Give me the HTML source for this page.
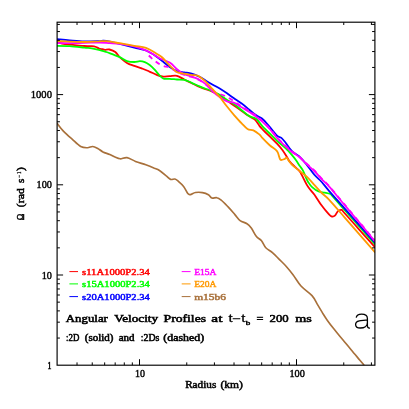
<!DOCTYPE html>
<html><head><meta charset="utf-8"><title>plot</title>
<style>html,body{margin:0;padding:0;background:#fff;}svg{display:block;will-change:transform;}text{font-family:"Liberation Serif",serif;font-weight:normal;}</style></head><body>
<svg width="409" height="409" viewBox="0 0 409 409">
<rect width="409" height="409" fill="#fff"/>
<defs><clipPath id="c"><rect x="57.1" y="22.2" width="317.79999999999995" height="343.0"/></clipPath></defs>
<g clip-path="url(#c)" fill="none" stroke-linejoin="round" stroke-linecap="round">
<path d="M57.0,42.0 C57.8,42.2 59.9,43.0 62.0,43.5 C64.1,44.0 67.2,44.4 69.7,44.7 C72.2,45.0 74.6,45.2 77.0,45.4 C79.4,45.6 81.8,45.9 84.3,46.0 C86.8,46.1 89.8,46.0 91.7,46.2 C93.7,46.4 94.8,46.6 96.0,47.0 C97.2,47.4 98.0,48.1 99.0,48.5 C100.0,48.9 101.3,49.0 102.3,49.2 C103.3,49.4 103.8,49.8 105.0,49.8 C106.2,49.8 107.7,49.1 109.4,49.5 C111.1,49.9 113.6,50.7 115.3,52.0 C117.0,53.3 117.8,55.3 119.7,57.1 C121.7,58.9 124.6,61.5 127.0,63.0 C129.4,64.5 131.9,65.0 134.3,65.9 C136.8,66.8 139.2,67.5 141.7,68.4 C144.1,69.3 146.6,70.2 149.0,71.3 C151.4,72.3 154.1,73.8 156.3,74.7 C158.5,75.6 160.1,76.3 162.3,76.5 C164.5,76.7 167.2,76.2 169.7,76.1 C172.1,76.0 174.6,75.2 177.0,75.8 C179.4,76.4 181.9,78.3 184.3,79.5 C186.8,80.7 189.2,82.0 191.7,83.2 C194.1,84.4 196.6,85.5 199.0,86.6 C201.4,87.6 204.1,88.7 206.3,89.5 C208.5,90.3 210.1,90.6 212.3,91.6 C214.5,92.6 217.2,94.0 219.7,95.5 C222.1,97.0 224.6,98.8 227.0,100.5 C229.4,102.2 231.9,104.1 234.3,105.8 C236.8,107.5 239.2,109.2 241.7,110.9 C244.1,112.6 246.8,114.6 249.0,116.1 C251.2,117.6 253.2,118.1 254.9,119.7 C256.6,121.3 258.1,124.0 259.3,125.6 C260.5,127.2 260.6,127.3 262.3,129.1 C264.0,130.9 267.2,134.0 269.7,136.4 C272.1,138.8 274.9,141.4 277.0,143.7 C279.1,146.0 280.8,147.8 282.4,150.0 C284.0,152.2 285.7,155.0 286.9,156.9 C288.1,158.8 288.5,160.0 289.8,161.6 C291.1,163.2 293.1,165.1 294.7,166.7 C296.3,168.2 298.2,169.8 299.3,170.9 C300.4,172.0 300.1,171.9 301.0,173.5 C301.9,175.1 303.3,178.1 304.5,180.4 C305.7,182.7 306.8,185.0 308.4,187.3 C310.0,189.7 312.1,191.5 314.3,194.5 C316.5,197.5 319.2,202.2 321.7,205.5 C324.1,208.8 327.3,212.5 329.0,214.3 C330.7,216.1 330.9,216.3 331.9,216.5 C332.9,216.7 333.9,216.6 334.9,215.7 C335.9,214.8 336.7,212.3 337.8,211.3 C338.9,210.3 340.5,209.7 341.5,209.9 C342.5,210.1 341.9,210.2 344.0,212.5 C346.1,214.8 350.9,220.2 354.3,224.0 C357.7,227.8 361.2,231.8 364.6,235.6 C368.0,239.4 373.2,245.2 374.9,247.1" stroke="#ff0000" stroke-width="1.8"/>
<path d="M57.0,45.8 C59.1,45.8 65.2,45.8 69.7,46.1 C74.2,46.4 80.6,47.2 84.3,47.6 C88.0,48.0 89.2,47.9 91.7,48.3 C94.2,48.7 96.6,49.2 99.0,49.8 C101.4,50.4 104.1,51.3 106.3,52.0 C108.5,52.7 110.1,53.4 112.3,54.2 C114.5,55.1 117.2,56.0 119.7,57.1 C122.2,58.2 124.6,60.3 127.0,61.1 C129.4,61.9 132.2,62.0 134.3,62.0 C136.5,62.0 138.2,61.2 139.9,61.2 C141.7,61.2 143.2,61.5 144.8,62.1 C146.4,62.7 148.1,63.8 149.7,65.0 C151.3,66.2 153.0,67.9 154.6,69.6 C156.2,71.3 158.0,73.8 159.5,75.3 C161.0,76.8 161.9,78.1 163.6,78.7 C165.3,79.3 167.5,78.7 169.7,78.8 C171.9,78.9 174.6,79.3 177.0,79.5 C179.4,79.7 181.9,79.4 184.3,79.9 C186.8,80.5 189.2,81.8 191.7,82.8 C194.1,83.8 196.6,85.1 199.0,86.1 C201.4,87.1 204.1,88.2 206.3,89.0 C208.5,89.8 210.1,90.1 212.3,91.1 C214.5,92.1 217.2,93.3 219.7,94.8 C222.1,96.3 224.6,98.3 227.0,99.9 C229.4,101.5 231.9,102.6 234.3,104.3 C236.8,106.0 239.2,108.2 241.7,110.2 C244.1,112.2 246.6,114.6 249.0,116.1 C251.4,117.6 254.1,117.3 256.3,119.0 C258.5,120.7 260.1,123.7 262.3,126.1 C264.5,128.5 267.2,131.1 269.7,133.5 C272.1,135.9 274.6,138.6 277.0,140.8 C279.4,143.1 282.6,145.5 284.3,147.0 C286.0,148.5 286.1,148.7 287.4,150.0 C288.6,151.3 290.4,153.3 291.8,154.9 C293.2,156.5 294.4,158.0 295.7,159.8 C297.0,161.6 298.4,163.9 299.6,165.7 C300.8,167.5 302.0,168.8 303.0,170.6 C304.0,172.4 304.6,174.5 305.5,176.5 C306.4,178.5 307.2,180.6 308.4,182.4 C309.5,184.2 310.7,185.8 312.4,187.3 C314.1,188.8 316.7,190.6 318.7,191.5 C320.7,192.4 322.6,192.2 324.6,192.6 C326.6,193.0 329.2,193.4 330.5,194.0 C331.8,194.6 329.8,193.2 332.5,196.2 C335.2,199.2 341.9,206.9 346.6,212.2 C351.3,217.5 356.1,222.8 360.8,228.1 C365.5,233.4 372.5,241.4 374.9,244.1" stroke="#00ff00" stroke-width="1.8"/>
<path d="M57.0,39.1 C59.1,39.3 65.2,39.9 69.7,40.3 C74.2,40.7 79.4,41.3 84.3,41.4 C89.2,41.5 95.8,41.2 99.0,41.1 C102.2,41.0 101.6,40.6 103.4,40.7 C105.2,40.8 107.3,41.1 110.0,41.6 C112.7,42.1 115.7,42.9 119.7,43.9 C123.8,44.9 129.9,46.5 134.3,47.6 C138.7,48.7 142.3,49.0 146.0,50.5 C149.7,52.0 153.6,54.6 156.3,56.4 C159.0,58.2 160.1,59.3 162.3,61.1 C164.5,62.9 167.2,65.3 169.7,67.0 C172.1,68.7 174.6,70.2 177.0,71.1 C179.4,72.0 181.9,72.0 184.3,72.4 C186.8,72.8 189.2,72.9 191.7,73.6 C194.1,74.3 196.6,75.3 199.0,76.5 C201.4,77.7 204.1,79.6 206.3,80.9 C208.5,82.2 210.1,83.2 212.3,84.5 C214.5,85.8 217.2,87.0 219.7,88.5 C222.1,90.0 224.6,91.6 227.0,93.3 C229.4,95.0 231.9,96.8 234.3,98.5 C236.8,100.2 239.2,101.8 241.7,103.6 C244.1,105.4 246.6,107.5 249.0,109.5 C251.4,111.5 254.1,113.8 256.3,115.3 C258.5,116.8 260.1,116.9 262.3,118.8 C264.5,120.7 267.2,124.1 269.7,126.9 C272.1,129.7 275.1,133.9 277.0,135.7 C278.9,137.5 279.9,136.7 281.4,137.9 C282.9,139.1 284.1,140.8 285.8,143.0 C287.5,145.2 289.5,148.8 291.7,151.0 C293.9,153.2 296.6,154.0 299.0,156.2 C301.4,158.4 303.8,161.2 306.3,164.3 C308.9,167.4 311.7,171.8 314.3,174.7 C316.9,177.6 319.2,179.3 321.7,182.0 C324.1,184.7 325.2,186.5 329.0,190.8 C332.8,195.2 339.2,202.3 344.3,208.1 C349.4,213.9 354.5,219.6 359.6,225.4 C364.7,231.2 372.3,239.8 374.9,242.7" stroke="#0000ff" stroke-width="1.8"/>
<path d="M57.0,43.0 C59.1,43.0 65.2,43.2 69.7,43.2 C74.2,43.2 79.4,43.0 84.3,42.9 C89.2,42.8 94.7,42.5 99.0,42.5 C103.3,42.5 106.5,43.0 110.0,43.2 C113.5,43.4 115.7,43.4 119.7,43.9 C123.8,44.4 130.2,45.4 134.3,46.4 C138.5,47.4 141.7,48.6 144.6,49.8 C147.5,51.0 149.5,52.1 152.0,53.5 C154.5,54.9 156.5,56.7 159.4,58.2 C162.3,59.7 166.8,60.8 169.7,62.6 C172.6,64.4 174.6,67.2 177.0,69.2 C179.4,71.2 181.9,73.1 184.3,74.3 C186.8,75.5 189.2,75.6 191.7,76.5 C194.1,77.4 196.6,78.2 199.0,79.5 C201.4,80.8 204.1,82.7 206.3,84.6 C208.5,86.5 210.1,89.0 212.3,91.1 C214.5,93.2 217.2,95.3 219.7,97.0 C222.1,98.7 224.6,100.4 227.0,101.4 C229.4,102.4 231.9,101.9 234.3,102.9 C236.8,103.9 239.2,105.8 241.7,107.3 C244.1,108.8 246.6,110.1 249.0,111.7 C251.4,113.3 254.1,115.1 256.3,116.8 C258.5,118.5 260.1,119.7 262.3,121.7 C264.5,123.7 267.2,126.3 269.7,129.0 C272.1,131.7 274.6,135.2 277.0,137.9 C279.4,140.6 281.9,142.9 284.3,145.2 C286.8,147.5 289.2,149.9 291.7,151.8 C294.1,153.8 296.4,154.8 299.0,156.9 C301.6,159.0 304.4,162.1 307.0,164.4 C309.6,166.8 311.9,168.6 314.3,171.0 C316.8,173.4 319.2,176.5 321.7,179.1 C324.1,181.7 325.2,182.1 329.0,186.4 C332.8,190.7 339.2,198.6 344.3,204.7 C349.4,210.8 354.5,216.8 359.6,222.9 C364.7,229.0 372.3,238.1 374.9,241.2" stroke="#ff00ff" stroke-width="1.8"/>
<path d="M148.8,55.5 C149.3,56.0 150.9,57.6 152.0,58.6 C153.1,59.6 154.3,60.5 155.6,61.5 C156.9,62.5 158.5,63.7 160.0,64.5 C161.5,65.3 163.1,65.9 164.5,66.3 C165.9,66.7 166.8,66.5 168.2,67.0 C169.6,67.5 171.5,68.7 173.0,69.5 C174.5,70.3 175.1,71.1 177.0,72.0 C178.9,72.9 181.9,74.2 184.3,75.0 C186.8,75.8 189.2,76.2 191.7,77.0 C194.1,77.8 196.6,78.7 199.0,80.0 C201.4,81.3 204.1,83.2 206.3,85.0 C208.5,86.8 210.6,89.1 212.3,90.5 C214.0,91.9 215.5,92.7 216.7,93.3 C217.9,93.9 218.5,93.6 219.7,94.0 C220.9,94.4 222.5,94.9 224.0,95.5 C225.5,96.1 226.8,96.7 228.5,97.7 C230.2,98.7 232.1,100.0 234.3,101.5 C236.5,103.0 239.2,104.9 241.7,106.5 C244.1,108.1 246.6,109.4 249.0,111.0 C251.4,112.6 254.1,114.3 256.3,116.0 C258.5,117.7 260.1,118.9 262.3,121.0 C264.5,123.1 267.2,125.8 269.7,128.5 C272.1,131.2 274.6,134.7 277.0,137.4 C279.4,140.1 281.9,142.4 284.3,144.7 C286.8,147.0 289.2,149.4 291.7,151.3 C294.1,153.2 296.4,154.3 299.0,156.4 C301.6,158.5 304.4,161.6 307.0,163.9 C309.6,166.2 311.9,168.1 314.3,170.5 C316.8,172.9 319.2,176.0 321.7,178.6 C324.1,181.2 325.2,181.6 329.0,185.9 C332.8,190.2 339.2,198.1 344.3,204.2 C349.4,210.3 354.5,216.3 359.6,222.4 C364.7,228.5 372.3,237.6 374.9,240.7" stroke="#ff00ff" stroke-width="1.8" stroke-dasharray="4.8 4.4" stroke-linecap="butt"/>
<path d="M57.0,41.0 C59.1,41.1 65.2,41.5 69.7,41.7 C74.2,41.9 79.4,42.0 84.3,42.0 C89.2,42.0 95.3,41.5 99.0,41.4 C102.7,41.2 104.1,41.0 106.3,41.1 C108.5,41.2 109.8,41.5 112.0,41.9 C114.2,42.2 116.0,42.6 119.7,43.2 C123.4,43.9 129.9,45.0 134.3,45.8 C138.7,46.6 142.3,46.6 146.0,47.9 C149.7,49.2 153.6,51.9 156.3,53.5 C159.0,55.1 160.1,55.5 162.3,57.5 C164.5,59.5 167.2,63.1 169.7,65.5 C172.1,67.9 174.6,70.8 177.0,72.1 C179.4,73.4 181.9,73.1 184.3,73.6 C186.8,74.1 189.5,74.8 191.7,75.1 C193.9,75.4 195.3,74.5 197.5,75.5 C199.7,76.5 202.4,78.7 204.9,80.9 C207.4,83.1 209.8,86.2 212.3,88.9 C214.8,91.6 217.2,94.1 219.7,97.0 C222.1,99.9 224.6,103.5 227.0,106.5 C229.4,109.5 231.9,112.5 234.3,115.3 C236.8,118.1 239.5,121.1 241.7,123.4 C243.9,125.7 245.6,127.8 247.5,129.0 C249.4,130.2 251.4,129.5 253.4,130.4 C255.4,131.3 257.8,133.2 259.3,134.4 C260.8,135.7 260.6,136.1 262.3,137.9 C264.0,139.7 267.2,143.0 269.7,145.2 C272.1,147.4 275.4,149.1 277.0,151.1 C278.6,153.1 278.6,155.4 279.2,156.9 C279.8,158.4 279.8,159.5 280.7,159.9 C281.6,160.3 283.3,159.5 284.3,159.1 C285.3,158.7 285.8,157.4 286.5,157.7 C287.2,157.9 287.7,159.4 288.7,160.6 C289.7,161.8 290.5,163.4 292.3,165.1 C294.1,166.8 297.2,169.0 299.7,171.0 C302.1,173.0 304.6,174.6 307.0,176.9 C309.4,179.2 311.9,182.2 314.3,184.9 C316.8,187.6 319.2,190.6 321.7,193.0 C324.1,195.4 325.2,195.6 329.0,199.6 C332.8,203.6 339.2,211.2 344.3,217.1 C349.4,222.9 354.5,228.8 359.6,234.7 C364.7,240.5 372.3,249.3 374.9,252.2" stroke="#ff9900" stroke-width="1.8"/>
<path d="M57.1,123.3 C58.2,124.7 61.1,128.8 63.6,131.4 C66.1,134.0 69.2,136.6 72.1,139.1 C74.9,141.6 78.1,145.1 80.7,146.5 C83.3,147.9 85.5,147.7 87.5,147.7 C89.5,147.7 91.0,146.4 92.7,146.5 C94.4,146.6 96.1,147.6 97.8,148.5 C99.5,149.4 100.9,150.9 102.9,151.9 C104.9,152.9 107.8,153.6 109.8,154.5 C111.8,155.4 113.3,156.4 115.0,157.1 C116.7,157.8 118.1,158.7 120.1,158.8 C122.1,158.9 124.4,157.2 127.0,157.6 C129.6,158.0 132.4,160.2 135.5,161.4 C138.6,162.6 142.7,163.7 145.8,164.8 C149.0,165.9 152.1,167.2 154.4,168.2 C156.7,169.1 157.5,169.2 159.5,170.5 C161.5,171.8 164.5,174.4 166.3,175.9 C168.2,177.4 169.2,178.9 170.6,179.4 C172.0,179.9 173.6,178.7 174.9,179.0 C176.2,179.3 177.0,180.1 178.4,181.3 C179.8,182.5 182.0,184.4 183.6,186.4 C185.2,188.4 186.7,192.2 187.8,193.6 C188.9,195.0 189.1,194.8 190.4,194.6 C191.7,194.4 193.5,192.8 195.5,192.5 C197.5,192.2 200.2,192.2 202.4,192.6 C204.6,193.0 206.8,193.8 208.4,194.7 C210.0,195.6 210.4,197.5 211.8,198.0 C213.2,198.5 215.3,197.3 216.9,197.7 C218.5,198.0 219.3,198.6 221.2,200.1 C223.1,201.6 225.8,204.5 228.1,206.9 C230.4,209.3 232.9,212.3 234.9,214.6 C236.9,216.9 238.1,219.1 240.1,220.6 C242.1,222.1 245.1,222.5 247.0,223.7 C248.9,224.9 249.7,225.9 251.3,228.0 C252.9,230.1 254.7,234.4 256.4,236.5 C258.1,238.6 259.9,238.9 261.5,240.8 C263.1,242.7 263.9,245.7 265.8,247.7 C267.7,249.7 270.4,250.8 272.7,252.8 C275.0,254.8 277.2,257.3 279.5,259.6 C281.8,261.9 284.0,263.9 286.3,266.5 C288.6,269.1 290.8,271.8 293.2,275.0 C295.6,278.2 297.9,282.6 301.0,286.0 C304.1,289.4 309.3,292.6 312.0,295.6 C314.7,298.6 315.4,301.1 317.1,303.9 C318.8,306.7 320.5,309.6 322.2,312.4 C323.9,315.1 325.4,317.6 327.4,320.4 C329.4,323.2 331.6,326.1 334.2,329.3 C336.8,332.5 339.9,336.4 342.8,339.8 C345.7,343.2 348.5,346.6 351.3,350.0 C354.1,353.4 357.8,357.7 359.9,360.2 C362.0,362.7 363.3,364.4 364.0,365.2" stroke="#a8703a" stroke-width="1.65"/>
</g>
<g stroke="#000" stroke-width="1.15" fill="none" stroke-linecap="square">
<rect x="57.1" y="22.2" width="317.79999999999995" height="343.0"/>
<path d="M57.1,338.05h2.8 M374.9,338.05h-2.8 M57.1,322.16h2.8 M374.9,322.16h-2.8 M57.1,310.89h2.8 M374.9,310.89h-2.8 M57.1,302.15h2.8 M374.9,302.15h-2.8 M57.1,295.01h2.8 M374.9,295.01h-2.8 M57.1,288.97h2.8 M374.9,288.97h-2.8 M57.1,283.74h2.8 M374.9,283.74h-2.8 M57.1,279.13h2.8 M374.9,279.13h-2.8 M57.1,275.00h6.0 M374.9,275.00h-6.0 M57.1,247.85h2.8 M374.9,247.85h-2.8 M57.1,231.96h2.8 M374.9,231.96h-2.8 M57.1,220.69h2.8 M374.9,220.69h-2.8 M57.1,211.95h2.8 M374.9,211.95h-2.8 M57.1,204.81h2.8 M374.9,204.81h-2.8 M57.1,198.77h2.8 M374.9,198.77h-2.8 M57.1,193.54h2.8 M374.9,193.54h-2.8 M57.1,188.93h2.8 M374.9,188.93h-2.8 M57.1,184.80h6.0 M374.9,184.80h-6.0 M57.1,157.65h2.8 M374.9,157.65h-2.8 M57.1,141.76h2.8 M374.9,141.76h-2.8 M57.1,130.49h2.8 M374.9,130.49h-2.8 M57.1,121.75h2.8 M374.9,121.75h-2.8 M57.1,114.61h2.8 M374.9,114.61h-2.8 M57.1,108.57h2.8 M374.9,108.57h-2.8 M57.1,103.34h2.8 M374.9,103.34h-2.8 M57.1,98.73h2.8 M374.9,98.73h-2.8 M57.1,94.60h6.0 M374.9,94.60h-6.0 M57.1,67.45h2.8 M374.9,67.45h-2.8 M57.1,51.56h2.8 M374.9,51.56h-2.8 M57.1,40.29h2.8 M374.9,40.29h-2.8 M57.1,31.55h2.8 M374.9,31.55h-2.8 M57.1,24.41h2.8 M374.9,24.41h-2.8 M77.02,365.2v-2.8 M77.02,22.2v2.8 M92.24,365.2v-2.8 M92.24,22.2v2.8 M104.67,365.2v-2.8 M104.67,22.2v2.8 M115.18,365.2v-2.8 M115.18,22.2v2.8 M124.29,365.2v-2.8 M124.29,22.2v2.8 M132.32,365.2v-2.8 M132.32,22.2v2.8 M139.50,365.2v-6.0 M139.50,22.2v6.0 M186.76,365.2v-2.8 M186.76,22.2v2.8 M214.41,365.2v-2.8 M214.41,22.2v2.8 M234.02,365.2v-2.8 M234.02,22.2v2.8 M249.24,365.2v-2.8 M249.24,22.2v2.8 M261.67,365.2v-2.8 M261.67,22.2v2.8 M272.18,365.2v-2.8 M272.18,22.2v2.8 M281.29,365.2v-2.8 M281.29,22.2v2.8 M289.32,365.2v-2.8 M289.32,22.2v2.8 M296.50,365.2v-6.0 M296.50,22.2v6.0 M343.76,365.2v-2.8 M343.76,22.2v2.8 M371.41,365.2v-2.8 M371.41,22.2v2.8" stroke-linecap="butt" stroke-width="1.0"/>
</g>
<text x="47.55" y="368.7" font-size="9.4" text-anchor="start" fill="#000" stroke="#000" stroke-width="0.55" textLength="3.9" lengthAdjust="spacingAndGlyphs">1</text>
<text x="41.75" y="278.5" font-size="9.4" text-anchor="start" fill="#000" stroke="#000" stroke-width="0.38" textLength="10.2" lengthAdjust="spacingAndGlyphs">10</text>
<text x="36.55" y="188.3" font-size="9.4" text-anchor="start" fill="#000" stroke="#000" stroke-width="0.38" textLength="15.4" lengthAdjust="spacingAndGlyphs">100</text>
<text x="30.75" y="98.1" font-size="9.4" text-anchor="start" fill="#000" stroke="#000" stroke-width="0.38" textLength="21.2" lengthAdjust="spacingAndGlyphs">1000</text>
<text x="134.95" y="376.7" font-size="9.4" text-anchor="start" fill="#000" stroke="#000" stroke-width="0.38" textLength="10.0" lengthAdjust="spacingAndGlyphs">10</text>
<text x="289.45" y="376.7" font-size="9.4" text-anchor="start" fill="#000" stroke="#000" stroke-width="0.38" textLength="15.4" lengthAdjust="spacingAndGlyphs">100</text>
<text x="185.15" y="388.2" font-size="10.0" text-anchor="start" fill="#000" stroke="#000" stroke-width="0.5" textLength="31.1" lengthAdjust="spacingAndGlyphs">Radius</text>
<text x="220.45" y="388.2" font-size="10.0" text-anchor="start" fill="#000" stroke="#000" stroke-width="0.5" textLength="22.4" lengthAdjust="spacingAndGlyphs">(km)</text>
<g transform="translate(23.9,220.6) rotate(-90)">
<text x="0.25" y="0" font-size="10.4" text-anchor="start" fill="#000" stroke="#000" stroke-width="0.5" textLength="6.5" lengthAdjust="spacingAndGlyphs">Ω</text>
<text x="13.35" y="-0.2" font-size="9.7" text-anchor="start" fill="#000" stroke="#000" stroke-width="0.5" textLength="3.8" lengthAdjust="spacingAndGlyphs">(</text>
<text x="17.45" y="0" font-size="10.4" text-anchor="start" fill="#000" stroke="#000" stroke-width="0.5" textLength="15.0" lengthAdjust="spacingAndGlyphs">rad</text>
<text x="37.65" y="0" font-size="10.4" text-anchor="start" fill="#000" stroke="#000" stroke-width="0.5" textLength="4.3" lengthAdjust="spacingAndGlyphs">s</text>
<text x="42.85" y="-3.4" font-size="6.0" text-anchor="start" fill="#000" stroke="#000" stroke-width="0.3" textLength="2.8" lengthAdjust="spacingAndGlyphs">−</text>
<text x="46.65" y="-2.7" font-size="6.5" text-anchor="start" fill="#000" stroke="#000" stroke-width="0.3" textLength="2.5" lengthAdjust="spacingAndGlyphs">1</text>
<text x="49.55" y="-0.2" font-size="9.7" text-anchor="start" fill="#000" stroke="#000" stroke-width="0.5" textLength="3.9" lengthAdjust="spacingAndGlyphs">)</text>
</g>
<path d="M69.4,271.6H78.0" stroke="#ff0000" stroke-width="1.0"/>
<text x="82.05" y="274.5" font-size="8.8" text-anchor="start" fill="#ff0000" stroke="#ff0000" stroke-width="0.45" textLength="67.8" lengthAdjust="spacingAndGlyphs">s11A1000P2.34</text>
<path d="M69.4,283.9H78.0" stroke="#00ff00" stroke-width="1.0"/>
<text x="82.05" y="286.8" font-size="8.8" text-anchor="start" fill="#00ff00" stroke="#00ff00" stroke-width="0.45" textLength="67.8" lengthAdjust="spacingAndGlyphs">s15A1000P2.34</text>
<path d="M69.4,296.6H78.0" stroke="#0000ff" stroke-width="1.0"/>
<text x="82.05" y="299.5" font-size="8.8" text-anchor="start" fill="#0000ff" stroke="#0000ff" stroke-width="0.45" textLength="67.8" lengthAdjust="spacingAndGlyphs">s20A1000P2.34</text>
<path d="M181.7,271.6H190.6" stroke="#ff00ff" stroke-width="1.0"/>
<text x="194.15" y="274.5" font-size="8.8" text-anchor="start" fill="#ff00ff" stroke="#ff00ff" stroke-width="0.45" textLength="22.1" lengthAdjust="spacingAndGlyphs">E15A</text>
<path d="M181.7,283.9H190.6" stroke="#ff9900" stroke-width="1.0"/>
<text x="194.15" y="286.8" font-size="8.8" text-anchor="start" fill="#ff9900" stroke="#ff9900" stroke-width="0.45" textLength="22.1" lengthAdjust="spacingAndGlyphs">E20A</text>
<path d="M181.7,296.6H190.6" stroke="#a8703a" stroke-width="1.0"/>
<text x="194.15" y="299.5" font-size="8.8" text-anchor="start" fill="#a8703a" stroke="#a8703a" stroke-width="0.45" textLength="31.8" lengthAdjust="spacingAndGlyphs">m15b6</text>
<text x="65.85" y="321.9" font-size="11" text-anchor="start" fill="#000" stroke="#000" stroke-width="0.55" textLength="42.0" lengthAdjust="spacingAndGlyphs">Angular</text>
<text x="114.15" y="321.9" font-size="11" text-anchor="start" fill="#000" stroke="#000" stroke-width="0.55" textLength="44.0" lengthAdjust="spacingAndGlyphs">Velocity</text>
<text x="163.55" y="321.9" font-size="11" text-anchor="start" fill="#000" stroke="#000" stroke-width="0.55" textLength="42.5" lengthAdjust="spacingAndGlyphs">Profiles</text>
<text x="211.35" y="321.9" font-size="11" text-anchor="start" fill="#000" stroke="#000" stroke-width="0.55" textLength="11.1" lengthAdjust="spacingAndGlyphs">at</text>
<text x="256.55" y="321.9" font-size="11" text-anchor="start" fill="#000" stroke="#000" stroke-width="0.55" textLength="6.9" lengthAdjust="spacingAndGlyphs">=</text>
<text x="269.55" y="321.9" font-size="11" text-anchor="start" fill="#000" stroke="#000" stroke-width="0.55" textLength="19.2" lengthAdjust="spacingAndGlyphs">200</text>
<text x="295.15" y="321.9" font-size="11" text-anchor="start" fill="#000" stroke="#000" stroke-width="0.55" textLength="16.6" lengthAdjust="spacingAndGlyphs">ms</text>
<text x="228.5" y="321.9" font-size="10" style="font-family:'Liberation Sans',sans-serif" stroke="#000" stroke-width="0.25" textLength="16.8" lengthAdjust="spacingAndGlyphs">t−t</text>
<text x="245.75" y="325.1" font-size="6.5" text-anchor="start" fill="#000" stroke="#000" stroke-width="0.45" textLength="4.5" lengthAdjust="spacingAndGlyphs">b</text>
<text x="66.05" y="341.0" font-size="9.8" text-anchor="start" fill="#000" stroke="#000" stroke-width="0.55" textLength="13.3" lengthAdjust="spacingAndGlyphs">:2D</text>
<text x="84.85" y="341.0" font-size="9.8" text-anchor="start" fill="#000" stroke="#000" stroke-width="0.55" textLength="28.6" lengthAdjust="spacingAndGlyphs">(solid)</text>
<text x="118.65" y="341.0" font-size="9.8" text-anchor="start" fill="#000" stroke="#000" stroke-width="0.55" textLength="15.8" lengthAdjust="spacingAndGlyphs">and</text>
<text x="140.85" y="341.0" font-size="9.8" text-anchor="start" fill="#000" stroke="#000" stroke-width="0.55" textLength="18.5" lengthAdjust="spacingAndGlyphs">:2Ds</text>
<text x="163.35" y="341.0" font-size="9.8" text-anchor="start" fill="#000" stroke="#000" stroke-width="0.55" textLength="40.8" lengthAdjust="spacingAndGlyphs">(dashed)</text>
<path d="M356.2,317.7 C356.6,315.4 358.6,314.2 361.6,314.2 C365.4,314.2 367.4,315.7 367.4,318.6 L367.4,325.4 C367.4,327.4 368.2,328.3 369.9,328.0 M367.4,319.9 C365.5,320.5 361.5,320.3 359.3,320.8 C356.9,321.3 355.6,322.4 355.6,324.4 C355.6,326.7 357.4,328.0 360.4,328.0 C364.2,328.0 367.4,326.0 367.4,322.8" fill="none" stroke="#000" stroke-width="1.3"/>
</svg></body></html>
